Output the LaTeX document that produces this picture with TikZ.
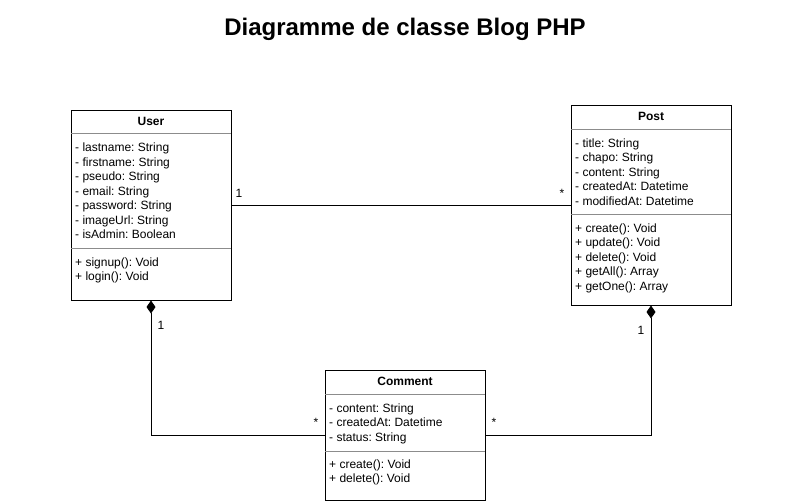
\documentclass[tikz,border=0pt]{standalone}
\usepackage{fontspec}
\setmainfont{Liberation Sans}
\frenchspacing
\usetikzlibrary{arrows.meta}
\begin{document}
\begin{tikzpicture}[x=1pt,y=-1pt,
  classbox/.style={draw=black,line width=1pt,minimum width=160pt,inner sep=0pt},
  sep/.style={draw=black!45,line width=0.8pt},
  ttl/.style={font=\fontsize{12}{14}\selectfont\bfseries,inner sep=0pt},
  item/.style={font=\fontsize{12}{14}\selectfont,inner sep=0pt,anchor=base west},
  mult/.style={font=\fontsize{12}{14}\selectfont,inner sep=0pt},
  link/.style={line width=1pt},
  comp/.style={line width=1pt,{Diamond[length=13pt,width=9pt,fill=black]}-}]
\useasboundingbox (0,0) rectangle (811,501);
\node[font=\fontsize{24}{28}\selectfont\bfseries,inner sep=0pt] (title) at (405,29) {Diagramme de classe Blog PHP};
% User
\node[classbox,minimum height=190pt] (user) at (151,205) {};
\node[ttl] (usert) at (151,121) {User};
\draw[sep] (71,133) -- (231,133);
\draw[sep] (71,248) -- (231,248);
\node[item] (u1) at (75,151.5) {- lastname: String};
\node[item] (u2) at (75,166) {- firstname: String};
\node[item] (u3) at (75,180.5) {- pseudo: String};
\node[item] (u4) at (75,195) {- email: String};
\node[item] (u5) at (75,209.5) {- password: String};
\node[item] (u6) at (75,224) {- imageUrl: String};
\node[item] (u7) at (75,238.5) {- isAdmin: Boolean};
\node[item] (u8) at (75,266) {+ signup(): Void};
\node[item] (u9) at (75,280.5) {+ login(): Void};
% Post
\node[classbox,minimum height=200pt] (post) at (651,205) {};
\node[ttl] (postt) at (651,116) {Post};
\draw[sep] (571,129) -- (731,129);
\draw[sep] (571,214) -- (731,214);
\node[item] (p1) at (575,147) {- title: String};
\node[item] (p2) at (575,161.5) {- chapo: String};
\node[item] (p3) at (575,176) {- content: String};
\node[item] (p4) at (575,190.5) {- createdAt: Datetime};
\node[item] (p5) at (575,205) {- modifiedAt: Datetime};
\node[item] (p6) at (575,232) {+ create(): Void};
\node[item] (p7) at (575,246.5) {+ update(): Void};
\node[item] (p8) at (575,261) {+ delete(): Void};
\node[item] (p9) at (575,275.5) {+ getAll(): Array};
\node[item] (p10) at (575,290) {+ getOne(): Array};
% Comment
\node[classbox,minimum height=130pt] (comment) at (405,435) {};
\node[ttl] (commentt) at (405,381) {Comment};
\draw[sep] (325,394) -- (485,394);
\draw[sep] (325,451) -- (485,451);
\node[item] (c1) at (329,412) {- content: String};
\node[item] (c2) at (329,426.5) {- createdAt: Datetime};
\node[item] (c3) at (329,441) {- status: String};
\node[item] (c4) at (329,468) {+ create(): Void};
\node[item] (c5) at (329,482.5) {+ delete(): Void};
% connectors
\draw[link] (user.east) -- (post.west);
\node[mult] (m1) at (239,193) {1};
\node[mult] (m2) at (562,193) {*};
\draw[comp] (user.south) |- (comment.west);
\node[mult] (m3) at (161,325) {1};
\node[mult] (m4) at (316,422) {*};
\draw[comp] (post.south) |- (comment.east);
\node[mult] (m5) at (641,330) {1};
\node[mult] (m6) at (494,422) {*};
\end{tikzpicture}
\end{document}
